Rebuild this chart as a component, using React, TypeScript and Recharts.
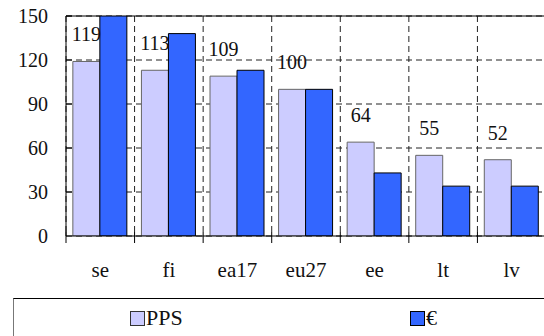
import React from "react";
import {
  BarChart,
  Bar,
  XAxis,
  YAxis,
  CartesianGrid,
  ReferenceLine,
  LabelList,
} from "recharts";

const countries = ["se", "fi", "ea17", "eu27", "ee", "lt", "lv"];
const ppsValues = [119, 113, 109, 100, 64, 55, 52];
const euroValues = [153, 138, 113, 100, 43, 34, 34];
const yTicks = [0, 30, 60, 90, 120, 150];

const FONT = "'Liberation Serif', 'DejaVu Serif', serif";
const W = 548;
const H = 336;
const LEFT = 66;
const RIGHT = 2;
const PLOT_W = W - LEFT - RIGHT;
const BAND = PLOT_W / countries.length;

const data = countries.map((c, i) => ({
  name: c,
  PPS: ppsValues[i],
  EUR: euroValues[i],
}));

const series = [
  { key: "PPS", label: "PPS", fill: "#ccccff", stroke: "#666666", box: "#333333" },
  { key: "EUR", label: "€", fill: "#3366ff", stroke: "#000000", box: "#000000" },
];

function XTick(props: any) {
  const { x, y, payload } = props;
  const bx = x - BAND / 2;
  return (
    <g>
      <line x1={bx} x2={bx} y1={y - 4} y2={y + 7} stroke="#000" />
      <text x={x} y={y + 41} textAnchor="middle" fontSize={21} fontFamily={FONT} fill="#111">
        {payload.value}
      </text>
    </g>
  );
}

function YTick(props: any) {
  const { x, y, payload } = props;
  return (
    <g>
      {payload.value > 0 && <line x1={x} x2={x + 6} y1={y} y2={y} stroke="#000" />}
      <text x={x - 18} y={y + 7} textAnchor="end" fontSize={20} fontFamily={FONT} fill="#111">
        {payload.value}
      </text>
    </g>
  );
}

export default function App() {
  return (
    <div
      style={{
        position: "absolute",
        left: 0,
        top: 0,
        width: 544,
        height: 336,
        overflow: "hidden",
        background: "#fff",
        fontFamily: FONT,
      }}
    >
      <BarChart
        width={W}
        height={H}
        data={data}
        margin={{ top: 16, right: RIGHT, left: 0, bottom: 60 }}
        barCategoryGap="10%"
        barGap={0}
      >
        <CartesianGrid
          stroke="#222"
          strokeDasharray="6 4"
          verticalCoordinatesGenerator={({ offset }: any) =>
            countries.map((_, i) => offset.left + (i * offset.width) / countries.length)
          }
        />
        <XAxis
          dataKey="name"
          tickLine={false}
          tickSize={0}
          tickMargin={0}
          height={40}
          axisLine={{ stroke: "#000" }}
          tick={<XTick />}
          interval={0}
        />
        <YAxis
          width={LEFT}
          domain={[0, 150]}
          ticks={yTicks}
          allowDataOverflow
          tickLine={false}
          tickSize={0}
          tickMargin={0}
          axisLine={{ stroke: "#000" }}
          tick={<YTick />}
        />
        {series.map((s) => (
          <Bar
            key={s.key}
            dataKey={s.key}
            fill={s.fill}
            stroke={s.stroke}
            strokeWidth={1}
            isAnimationActive={false}
          >
            {s.key === "PPS" && (
              <LabelList
                dataKey="PPS"
                position="top"
                offset={20}
                fontSize={20}
                fontFamily={FONT}
                fill="#111"
              />
            )}
          </Bar>
        ))}
        <ReferenceLine y={150} stroke="#000" strokeWidth={1} />
      </BarChart>
      <div
        style={{
          position: "absolute",
          left: 13,
          top: 298,
          width: 560,
          height: 60,
          borderTop: "1px solid #000",
          borderLeft: "1px solid #777",
        }}
      >
        {series.map((s, i) => (
          <div
            key={s.key}
            style={{
              position: "absolute",
              left: i === 0 ? 116 : 396,
              top: 11,
              display: "flex",
              alignItems: "center",
              fontSize: 22,
              color: "#111",
              lineHeight: "16px",
            }}
          >
            <span
              style={{
                display: "inline-block",
                width: 13,
                height: 13,
                background: s.fill,
                border: `1px solid ${s.box}`,
                marginRight: 1,
              }}
            />
            {s.label}
          </div>
        ))}
      </div>
    </div>
  );
}
